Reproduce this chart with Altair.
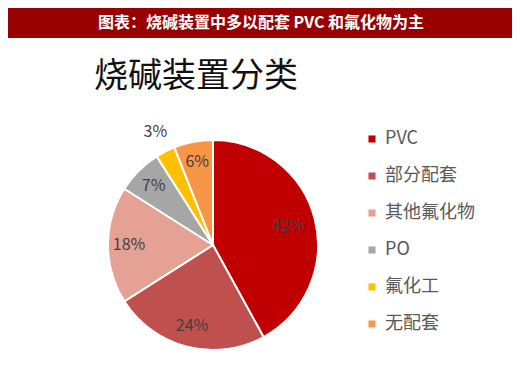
import altair as alt
import pandas as pd

categories = ["PVC", "部分配套", "其他氟化物", "PO", "氟化工", "无配套"]
values = [42, 24, 18, 7, 3, 6]
labels = ["42%", "24%", "18%", "7%", "3%", "6%"]
colors = ["#C00000", "#C0504D", "#E6A195", "#A6A6A6", "#FFC000", "#F79646"]

header_text = "图表：烧碱装置中多以配套 PVC 和氟化物为主"
title_text = "烧碱装置分类"

df = pd.DataFrame({"cat": categories, "value": values, "label": labels})
cat_list = "[" + ",".join(f"'{c}'" for c in categories) + "]"

FONT = "Noto Sans CJK SC"
CX, CY, R = 205, 237, 105
total = sum(values)

base = alt.Chart(df).transform_calculate(
    idx=f"indexof({cat_list}, datum.cat)",
    r="datum.cat == '氟化工' ? 127 : (datum.cat == 'PVC' ? 78 : 84)",
).transform_window(
    cum="sum(value)", sort=[alt.SortField("idx")], frame=[None, 0]
).transform_calculate(
    start="datum.cum - datum.value",
    mid="datum.cum - datum.value / 2",
)

theta_scale = alt.Scale(domain=[0, total])

color = alt.Color(
    "cat:N",
    scale=alt.Scale(domain=categories, range=colors),
    sort=categories,
    legend=alt.Legend(
        title=None,
        orient="none",
        legendX=355,
        legendY=122,
        symbolType="square",
        symbolSize=50,
        symbolStrokeWidth=0,
        labelFontSize=18,
        labelFont=FONT,
        labelColor="#595959",
        labelOffset=4,
        rowPadding=19,
    ),
)

arcs = base.mark_arc(outerRadius=R, stroke="white", strokeWidth=2).encode(
    theta=alt.Theta("start:Q", scale=theta_scale, stack=None),
    theta2="cum:Q",
    color=color,
    x=alt.value(CX),
    y=alt.value(CY),
)

texts = base.mark_text(fontSize=16, font=FONT, color="#404040").encode(
    theta=alt.Theta("mid:Q", scale=theta_scale, stack=None),
    radius=alt.Radius("r:Q", scale=None),
    text="label:N",
    x=alt.value(CX),
    y=alt.value(CY),
)

hdr_df = pd.DataFrame({"t": [header_text]})
header_rect = alt.Chart(hdr_df).mark_rect(color="#990000").encode(
    x=alt.value(0), x2=alt.value(504), y=alt.value(0), y2=alt.value(30)
)
header = alt.Chart(hdr_df).mark_text(
    color="white", fontSize=16, fontWeight="bold", font=FONT, baseline="middle"
).encode(text="t:N", x=alt.value(253), y=alt.value(15))

ttl = alt.Chart(pd.DataFrame({"t": [title_text]})).mark_text(
    color="#111111", fontSize=34, font=FONT, align="left"
).encode(text="t:N", x=alt.value(86), y=alt.value(69))

chart = alt.layer(header_rect, header, ttl, arcs, texts).properties(
    width=504, height=350, padding=0, autosize=alt.AutoSizeParams(type="none"),
    background="white",
).configure_view(stroke=None)

chart.save("out.html", embed_options={"renderer": "svg", "actions": False})
